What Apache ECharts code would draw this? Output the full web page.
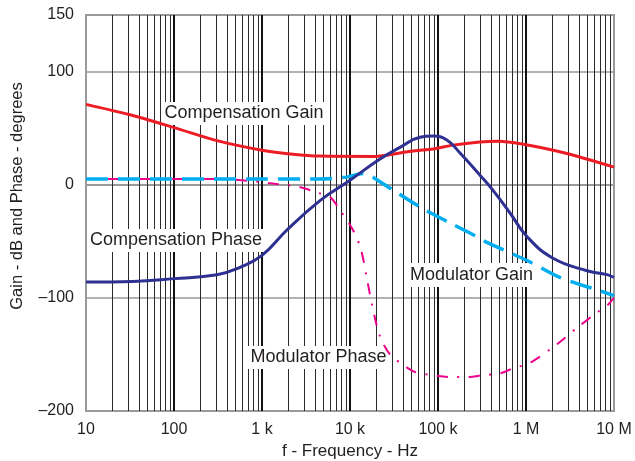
<!DOCTYPE html>
<html>
<head>
<meta charset="utf-8">
<script src="https://cdn.jsdelivr.net/npm/echarts@6/dist/echarts.min.js"></script>
<style>
html,body{margin:0;padding:0;background:#fff;}
#chart{width:635px;height:461px;}
</style>
</head>
<body>
<div id="chart"></div>
<script>
// ---- data ----
const xTickLabels = ['10', '100', '1 k', '10 k', '100 k', '1 M', '10 M'];

const compGainF = [10, 30.8, 100, 324, 1000, 2240, 4500, 19200, 37000, 54800, 87700, 148000, 300000, 481000, 901000, 2770000, 10000000];
const compGainV = [71, 62, 50.5, 38.5, 30.5, 27, 25.3, 25, 28, 30, 31.5, 35, 37.8, 38.5, 36, 28, 15.5];

const compPhaseF = [10, 34, 100, 308, 562, 1000, 1920, 4560, 10000, 21900, 37000, 62400, 87700, 126000, 178000, 300000, 422000, 658000, 1030000, 2030000, 4930000, 8320000, 10000000];
const compPhaseV = [-86, -85.5, -83, -79.5, -73, -62.5, -40, -14, 4, 22.7, 33, 42, 43, 39.5, 28, 8.4, -5, -25, -46, -65, -76, -79.5, -82];

const modGainF = [10, 1000, 4560, 9000, 14100, 16500, 19200, 31000, 62400, 131000, 270000, 360000, 1030000, 2430000, 6930000, 10000000];
const modGainV = [5, 5, 5, 6.7, 10, 8.5, 5.5, -4.9, -19.7, -33, -45.5, -51, -67, -82, -93.8, -98];

const modPhaseF = [10, 300, 700, 1170, 2630, 4110, 5930, 7700, 10800, 13300, 15500, 18000, 21900, 28500, 42200, 54800, 94900, 144000, 219000, 324000, 493000, 731000, 1110000, 2250000, 3800000, 6410000, 8300000, 10000000];
const modPhaseV = [5, 5, 3.5, 1.5, -2, -6.7, -11, -22.5, -40, -57, -82, -108, -134, -150, -160.4, -165.5, -168.7, -170, -170, -168.3, -167, -162, -157.5, -141, -126.5, -113, -107, -100];

// gridline positions for a log axis (decades and 2..9 multiples)
const decadeLines = [100, 1000, 10000, 100000, 1000000];
const minorLines = [];
for (let d = 10; d < 1e7; d *= 10) for (let m = 2; m <= 9; m++) minorLines.push(d * m);

function zip(f, v) { return f.map((x, i) => [x, v[i]]); }

const FONT = '"Liberation Sans", Arial, sans-serif';
const TXT = '#231f20';

const chart = echarts.init(document.getElementById('chart'), null, {renderer: 'canvas'});

function gridLineSeries(values, color, width) {
  return {
    type: 'line', data: [], z: 1, silent: true,
    markLine: {
      z: 1, silent: true, symbol: ['none', 'none'], animation: false,
      label: {show: false},
      emphasis: {disabled: true},
      lineStyle: {color: color, width: width, type: 'solid'},
      data: values.map(v => ({xAxis: v}))
    }
  };
}

function curve(name, f, v, color, width, dash, offset, smooth) {
  return {
    name: name, type: 'line', data: zip(f, v), z: 6,
    showSymbol: false, smooth: smooth || 0.3, silent: true, animation: false,
    lineStyle: {color: color, width: width, type: dash || 'solid', dashOffset: offset || 0, cap: 'butt'}
  };
}

function boxLabel(text, bx, by, bw, bh, tx, ty) {
  return [
    {type: 'rect', z: 3, silent: true, shape: {x: bx, y: by, width: bw, height: bh}, style: {fill: '#ffffff'}},
    {type: 'text', z: 4, silent: true, x: tx, y: ty,
     style: {text: text, font: '18px ' + FONT, fill: TXT, align: 'left', verticalAlign: 'middle'}}
  ];
}

chart.setOption({
  animation: false,
  backgroundColor: '#ffffff',
  grid: {left: 86, right: 21, top: 15, bottom: 50, containLabel: false, outerBoundsMode: 'none',
         show: true, borderColor: '#9a9a9a', borderWidth: 2, backgroundColor: 'transparent'},
  xAxis: {
    type: 'log', logBase: 10, min: 10, max: 10000000,
    name: 'f - Frequency - Hz', nameLocation: 'middle', nameGap: 31,
    nameTextStyle: {fontFamily: FONT, fontSize: 17, color: TXT},
    axisLine: {show: true, lineStyle: {color: '#9a9a9a', width: 2}},
    axisTick: {show: false},
    splitLine: {show: false},
    axisLabel: {
      fontFamily: FONT, fontSize: 16, color: TXT, margin: 11,
      formatter: function (v) { const i = Math.round(Math.log10(v)) - 1; return xTickLabels[i] !== undefined ? xTickLabels[i] : ''; }
    }
  },
  yAxis: {
    type: 'value', min: -200, max: 150, interval: 100,
    name: 'Gain - dB and Phase - degrees', nameLocation: 'middle', nameGap: 60,
    nameTextStyle: {fontFamily: FONT, fontSize: 16.5, color: TXT, padding: [0, 0, 0, 34]},
    axisLine: {show: true, lineStyle: {color: '#9a9a9a', width: 2}},
    axisTick: {show: false},
    splitLine: {show: true, lineStyle: {color: '#9a9a9a', width: 1.5}},
    axisLabel: {
      fontFamily: FONT, fontSize: 16, color: TXT, margin: 12,
      formatter: function (v) { return String(v).replace('-', '\u2013'); }
    }
  },
  graphic: [].concat(
    boxLabel('Compensation Gain', 161, 102, 164, 23, 164.5, 113.5),
    boxLabel('Compensation Phase', 87, 229, 179, 23, 90, 240.5),
    boxLabel('Modulator Gain', 404, 263, 131, 24, 410, 275),
    boxLabel('Modulator Phase', 246, 346, 142, 23, 250.5, 357.5)
  ),
  series: [
    gridLineSeries(minorLines, '#2a2a2a', 1),
    gridLineSeries(decadeLines, '#111111', 2),
    curve('Modulator Phase', modPhaseF, modPhaseV, '#ec008c', 2, [11, 9.5, 2, 9.5], 10),
    curve('Modulator Gain', modGainF, modGainV, '#00aeef', 3.5, [22, 10]),
    curve('Compensation Gain', compGainF, compGainV, '#ed1c24', 3),
    curve('Compensation Phase', compPhaseF, compPhaseV, '#2e3192', 3, null, 0, 0.45)
  ]
});
</script>
</body>
</html>
